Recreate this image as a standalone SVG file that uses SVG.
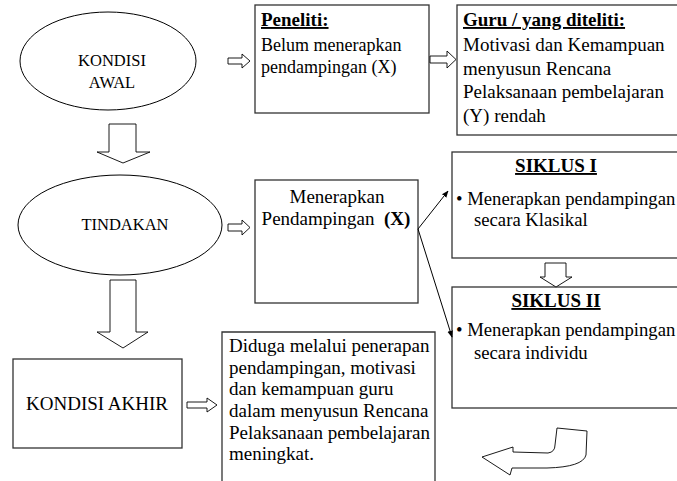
<svg xmlns="http://www.w3.org/2000/svg" width="677" height="481" viewBox="0 0 677 481">
<style>
text{font-family:'Liberation Serif','DejaVu Serif',serif;fill:#000}
.t{font-size:19px}
.s{font-size:18px}
.bl{font-size:18.7px}
.e{font-size:16.5px}
.b{font-weight:bold}
.u{text-decoration:underline}
.box{fill:#fff;stroke:#333;stroke-width:1.3}
.ell{fill:#fff;stroke:#000;stroke-width:1}
.ar{fill:#fff;stroke:#000;stroke-width:0.9;stroke-linejoin:miter}
.ln{stroke:#000;stroke-width:1;fill:none}
</style>
<defs>
<marker id="ah" viewBox="0 0 10 10" refX="9" refY="5" markerWidth="7" markerHeight="7" orient="auto" markerUnits="userSpaceOnUse">
<path d="M0,1 L10,5 L0,9 Z" fill="#000"/>
</marker>
</defs>
<rect width="677" height="481" fill="#fff"/>

<g id="kondisi-awal">
<ellipse class="ell" cx="108" cy="61" rx="88" ry="49"/>
<text class="e" x="112" y="66" text-anchor="middle">KONDISI</text>
<text class="e" x="112" y="88" text-anchor="middle">AWAL</text>
</g>

<g id="peneliti">
<rect class="box" x="255" y="5" width="174" height="108"/>
<text class="t b u" x="261" y="26">Peneliti:</text>
<text class="s" x="261" y="51">Belum menerapkan</text>
<text class="s" x="261" y="73">pendampingan (X)</text>
</g>

<g id="guru">
<rect class="box" x="457" y="5" width="240" height="130"/>
<text class="t b u" x="463" y="26">Guru / yang diteliti:</text>
<text class="t" x="463" y="51">Motivasi dan Kemampuan</text>
<text class="t" x="463" y="75">menyusun Rencana</text>
<text class="t" x="463" y="98">Pelaksanaan pembelajaran</text>
<text class="t" x="463" y="122">(Y) rendah</text>
</g>

<g id="tindakan">
<ellipse class="ell" cx="120" cy="225" rx="102" ry="50"/>
<text class="e" x="125" y="230" text-anchor="middle">TINDAKAN</text>
</g>

<g id="menerapkan">
<rect class="box" x="255" y="180" width="163" height="123"/>
<text class="t" x="337" y="203" text-anchor="middle">Menerapkan</text>
<text class="t" x="336" y="225" text-anchor="middle" xml:space="preserve">Pendampingan  <tspan class="b">(X)</tspan></text>
</g>

<g id="siklus-1">
<rect class="box" x="452" y="152" width="240" height="106"/>
<text class="t b u" x="556" y="172" text-anchor="middle">SIKLUS I</text>
<text class="bl" x="456" y="205">• Menerapkan pendampingan</text>
<text class="bl" x="474" y="226">secara Klasikal</text>
</g>

<g id="siklus-2">
<rect class="box" x="452" y="287" width="240" height="121"/>
<text class="t b u" x="556" y="307" text-anchor="middle">SIKLUS II</text>
<text class="bl" x="456" y="336">• Menerapkan pendampingan</text>
<text class="bl" x="474" y="359">secara individu</text>
</g>

<g id="kondisi-akhir">
<rect class="box" x="13" y="359" width="169" height="89"/>
<text class="t" x="97" y="410" text-anchor="middle">KONDISI AKHIR</text>
</g>

<g id="diduga">
<path class="box" d="M222,490 L222,332 L435,332 L435,490"/>
<text class="t" x="229" y="352">Diduga melalui penerapan</text>
<text class="t" x="229" y="374">pendampingan, motivasi</text>
<text class="t" x="229" y="395">dan kemampuan guru</text>
<text class="t" x="229" y="417">dalam menyusun Rencana</text>
<text class="t" x="229" y="439">Pelaksanaan pembelajaran</text>
<text class="t" x="229" y="460">meningkat.</text>
</g>

<g id="connectors">
<path class="ar" d="M228,58 L242,58 L242,54 L250,61 L242,68 L242,64 L228,64 Z"/>
<path class="ar" d="M430,56 L447,56 L447,51 L456,59.5 L447,68 L447,63 L430,63 Z"/>
<path class="ar" d="M228,224 L242,224 L242,220 L250,227.5 L242,235 L242,231 L228,231 Z"/>
<path class="ar" d="M187,402 L207,402 L207,398 L217,405 L207,412 L207,408 L187,408 Z"/>
<path class="ar" d="M109,124 L136,124 L136,152 L150,152 L123,163 L97,152 L109,152 Z"/>
<path class="ar" d="M110,280 L136,280 L136,332 L148,332 L123,348 L97,332 L110,332 Z"/>
<path class="ar" d="M545,263 L566,263 L566,277 L572,277 L556,287 L540,277 L545,277 Z"/>
<line class="ln" x1="418" y1="229" x2="448" y2="191" marker-end="url(#ah)"/>
<line class="ln" x1="418" y1="229" x2="452" y2="337" marker-end="url(#ah)"/>
<path class="ar" d="M557,428 L587,431 L586,455 Q583,467 547,468 L512,468 L510,475 L482,457 L513,447 L513,452 L548,453 Q555,452 555,445 Z"/>
</g>
</svg>
